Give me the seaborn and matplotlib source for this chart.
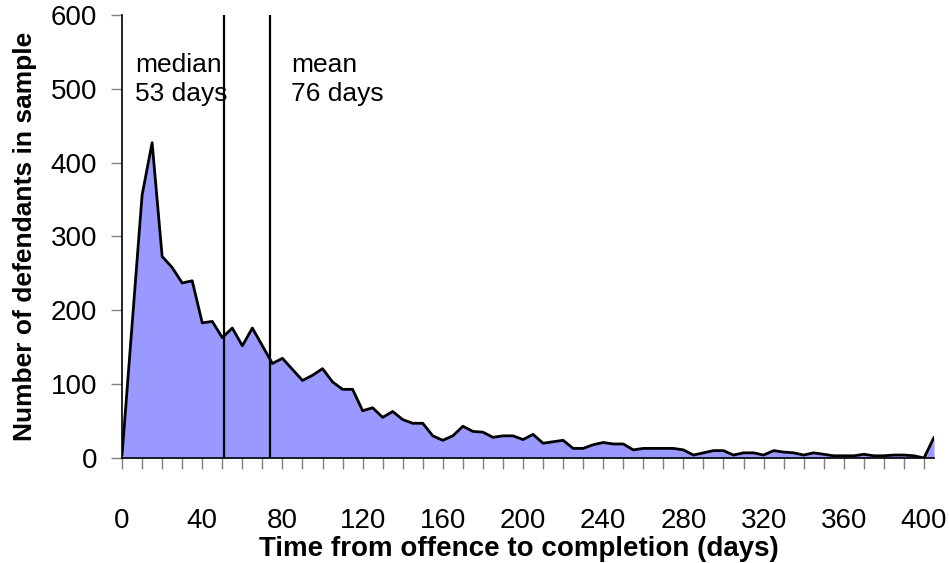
import matplotlib
matplotlib.use("Agg")
import matplotlib.pyplot as plt
import seaborn as sns
import numpy as np
import pandas as pd

days = list(range(0, 410, 5))
defendants = [4, 180, 356, 427, 273, 258, 237, 240, 183, 185,
              163, 176, 152, 176, 152, 128, 135, 120, 105, 112,
              121, 103, 93, 93, 64, 68, 55, 63, 52, 47,
              47, 30, 24, 30, 43, 36, 35, 28, 30, 30,
              25, 32, 20, 22, 24, 13, 13, 18, 21, 19,
              19, 11, 13, 13, 13, 13, 11, 4, 7, 10,
              10, 4, 7, 7, 4, 10, 8, 7, 4, 7,
              5, 3, 3, 3, 5, 3, 3, 4, 4, 3,
              0, 28]
x_tick_labels = [0, 40, 80, 120, 160, 200, 240, 280, 320, 360, 400]
y_ticks = [0, 100, 200, 300, 400, 500, 600]
marker_lines = [51, 74]
marker_texts = ["median\n53 days", "mean\n76 days"]
marker_text_x = [6.5, 84.5]

df = pd.DataFrame({"days": days, "defendants": defendants})

sns.set_style("white")
plt.rcParams["font.family"] = ["Liberation Sans", "DejaVu Sans"]
plt.rcParams["text.color"] = "black"
plt.rcParams["axes.labelcolor"] = "black"
plt.rcParams["xtick.labelcolor"] = "black"
plt.rcParams["ytick.labelcolor"] = "black"

fig = plt.figure(figsize=(9.49, 5.63), dpi=100)
ax = fig.add_axes([0.1286, 0.1865, 0.9842 - 0.1286, 0.9734 - 0.1865])

ax.fill_between(df["days"], 0, df["defendants"], color="#9999FF", linewidth=0)
sns.lineplot(data=df, x="days", y="defendants", ax=ax, color="black", linewidth=2.0)

for xv, txt, tx in zip(marker_lines, marker_texts, marker_text_x):
    ax.plot([xv, xv], [0, 600], color="black", linewidth=1.6, solid_capstyle="butt")
    ax.text(tx, 548, txt, fontsize=19, va="top", ha="left", linespacing=1.25, color="black")

ax.set_xlim(0, 405)
ax.set_ylim(0, 600)
ax.set_xticks(np.arange(0, 401, 10))
ax.set_xticklabels([str(v) if v in x_tick_labels else "" for v in np.arange(0, 401, 10)])
ax.set_yticks(y_ticks)
ax.tick_params(axis="x", direction="out", length=8, width=1, color="#808080",
               labelsize=20, pad=28, labelcolor="black")
ax.tick_params(axis="y", direction="out", length=8, width=1, color="#808080",
               labelsize=20, pad=10, labelcolor="black")
ax.tick_params(bottom=True, left=True)

for side in ["top", "right"]:
    ax.spines[side].set_visible(False)
for side in ["left", "bottom"]:
    ax.spines[side].set_color("black")
    ax.spines[side].set_linewidth(1.2)

ax.set_xlabel("")
fig.text(519 / 949, (563 - 549) / 563, "Time from offence to completion (days)",
         fontsize=20, fontweight="bold", ha="center", va="center", color="black")
ax.set_ylabel("Number of defendants in sample", fontsize=19, fontweight="bold",
              labelpad=10, color="black")
ax.grid(False)

fig.savefig("out.png", dpi=100)
